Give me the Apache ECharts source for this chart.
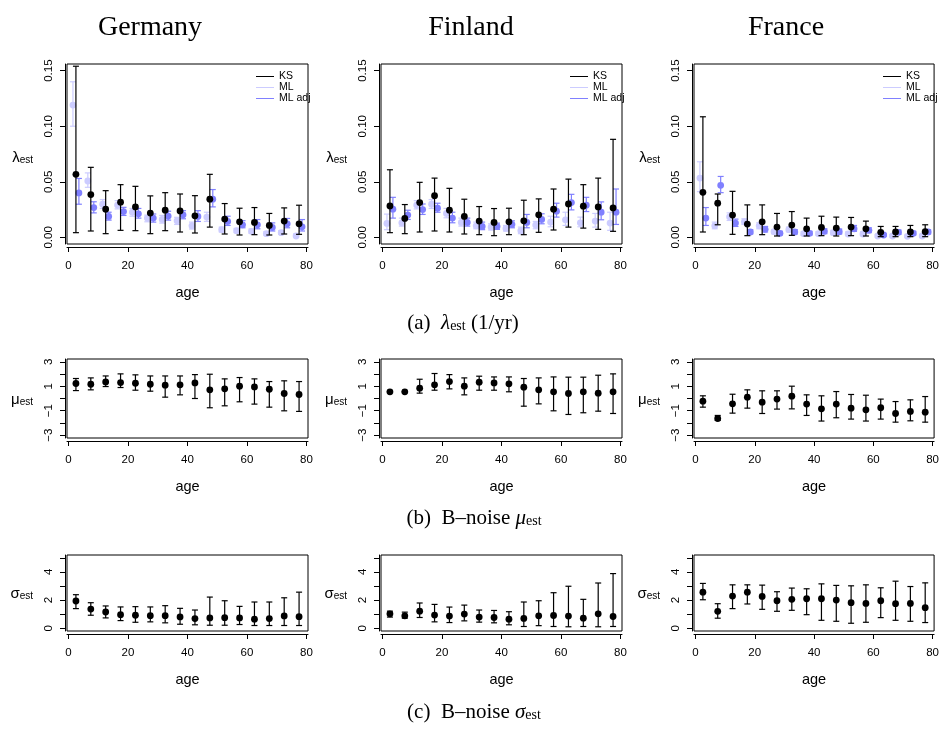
<!DOCTYPE html>
<html>
<head>
<meta charset="utf-8">
<script src="https://cdn.jsdelivr.net/npm/echarts@6/dist/echarts.min.js"></script>
<style>
  html, body { margin: 0; padding: 0; background: #fff; }
  #chart { width: 942px; height: 731px; }
</style>
</head>
<body>
<div id="chart"></div>
<script>
// Age-group midpoints (years)
const ages = [2.5, 7.5, 12.5, 17.5, 22.5, 27.5, 32.5, 37.5, 42.5, 47.5, 52.5, 57.5, 62.5, 67.5, 72.5, 77.5];
const countries = ['Germany', 'Finland', 'France'];
const xTicks = [0, 20, 40, 60, 80];

// Each entry: [estimate, lower, upper]
// lambda (1/yr) — Germany
const lamKS_DE = [[0.0567,0.0042,0.154],[0.0385,0.0057,0.063],[0.0253,0.0033,0.042],[0.0316,0.0063,0.0474],[0.0274,0.006,0.0459],[0.0218,0.0033,0.0373],[0.0244,0.006,0.0402],[0.0238,0.0048,0.039],[0.0194,0.0039,0.0375],[0.0343,0.0092,0.0567],[0.0164,0.003,0.0304],[0.014,0.0021,0.0262],[0.0134,0.0024,0.0268],[0.0107,0.0021,0.0215],[0.0146,0.003,0.0265],[0.0122,0.0027,0.0289]];
const lamML_DE = [[0.119,0.100,0.140],[0.0507,0.045,0.058],[0.0298,0.026,0.034],[0.029,0.0256,0.033],[0.0226,0.019,0.026],[0.0173,0.014,0.020],[0.0161,0.0128,0.0197],[0.0149,0.0116,0.018],[0.0104,0.0075,0.0137],[0.0182,0.0143,0.0226],[0.0069,0.0048,0.0092],[0.006,0.0042,0.008],[0.0054,0.0036,0.0075],[0.0033,0.0018,0.0051],[0.0042,0.0027,0.006],[0.0012,0,0.003]];
const lamMLadj_DE = [[0.040,0.0298,0.053],[0.0268,0.022,0.032],[0.0188,0.0155,0.0226],[0.0232,0.0197,0.027],[0.0212,0.0173,0.026],[0.0173,0.0137,0.021],[0.0191,0.0155,0.0235],[0.0203,0.0167,0.024],[0.0188,0.0143,0.024],[0.0343,0.0274,0.043],[0.0143,0.0107,0.019],[0.0113,0.0086,0.015],[0.0113,0.0077,0.016],[0.0089,0.0057,0.013],[0.0122,0.0086,0.017],[0.0095,0.0057,0.016]];
// lambda — Finland
const lamKS_FI = [[0.0283,0.0042,0.0608],[0.017,0.0033,0.0295],[0.0313,0.0048,0.0495],[0.0375,0.0057,0.0533],[0.0244,0.0048,0.0441],[0.0188,0.003,0.0343],[0.0146,0.0024,0.0277],[0.0134,0.0015,0.0259],[0.014,0.0024,0.0262],[0.0149,0.0024,0.0334],[0.0203,0.0045,0.0346],[0.0253,0.0066,0.0435],[0.0301,0.0092,0.0524],[0.028,0.0083,0.0474],[0.0274,0.0072,0.0533],[0.0265,0.0054,0.0882]];
const lamML_FI = [[0.0125,0.0069,0.0209],[0.0131,0.0101,0.0173],[0.029,0.0256,0.033],[0.0298,0.026,0.034],[0.0215,0.0176,0.026],[0.0134,0.0101,0.0173],[0.0104,0.0077,0.0137],[0.0092,0.0066,0.0122],[0.008,0.0057,0.0107],[0.006,0.0033,0.0092],[0.011,0.0077,0.0143],[0.0137,0.0095,0.019],[0.0158,0.0107,0.0226],[0.0131,0.0095,0.0182],[0.0146,0.0092,0.0215],[0.0128,0.0063,0.0226]];
const lamMLadj_FI = [[0.0253,0.0173,0.036],[0.020,0.0161,0.0244],[0.025,0.0206,0.030],[0.0262,0.0226,0.0307],[0.0173,0.0131,0.0226],[0.0134,0.0101,0.0173],[0.0098,0.0069,0.0137],[0.0098,0.0072,0.0128],[0.0116,0.0086,0.0149],[0.0134,0.0086,0.0206],[0.0161,0.0122,0.0212],[0.0235,0.0182,0.0307],[0.0313,0.0247,0.0387],[0.0289,0.0232,0.036],[0.0226,0.0158,0.0319],[0.0226,0.0116,0.0435]];
// lambda — France
const lamKS_FR = [[0.0405,0.0048,0.1085],[0.0307,0.0113,0.039],[0.020,0.0027,0.0414],[0.0119,0.0015,0.0292],[0.014,0.0024,0.0292],[0.0092,0.0012,0.0215],[0.011,0.0018,0.0232],[0.0077,0.0012,0.0173],[0.0089,0.0015,0.019],[0.0083,0.0012,0.0182],[0.0092,0.0015,0.0179],[0.0077,0.0012,0.0146],[0.0045,0.0006,0.0098],[0.0048,0.0006,0.0098],[0.0048,0.0006,0.0107],[0.0051,0.0006,0.0113]];
const lamML_FR = [[0.0533,0.0411,0.068],[0.0104,0.0077,0.0137],[0.0185,0.0152,0.022],[0.014,0.0116,0.0167],[0.0104,0.0077,0.0131],[0.0051,0.0033,0.0069],[0.0069,0.0051,0.0092],[0.0033,0.0018,0.0051],[0.0033,0.0018,0.0051],[0.0042,0.0024,0.0063],[0.003,0.0015,0.0048],[0.003,0.0015,0.0048],[0.0012,0.0003,0.0024],[0.0012,0.0003,0.0024],[0.0009,0,0.0021],[0.0012,0.0003,0.0024]];
const lamMLadj_FR = [[0.0173,0.0107,0.0268],[0.0468,0.0402,0.0548],[0.0128,0.0098,0.0164],[0.0048,0.003,0.0069],[0.0072,0.0048,0.0098],[0.0036,0.0021,0.0054],[0.0048,0.003,0.0069],[0.0036,0.0021,0.0054],[0.0054,0.0033,0.0077],[0.0051,0.003,0.0075],[0.0077,0.0054,0.0107],[0.0063,0.0042,0.0086],[0.0021,0.0009,0.0033],[0.0045,0.0027,0.0066],[0.0036,0.0021,0.0054],[0.0048,0.003,0.0069]];

// B-noise mu
const mu_DE = [[1.23,0.65,1.64],[1.17,0.71,1.69],[1.36,0.98,1.85],[1.31,0.90,2.02],[1.25,0.68,1.94],[1.17,0.60,1.85],[1.09,0.11,1.85],[1.12,0.30,1.85],[1.28,0.0,1.96],[0.71,-0.76,1.99],[0.79,-0.60,1.61],[1.01,-0.27,1.72],[0.95,-0.46,1.61],[0.76,-0.71,1.39],[0.41,-1.01,1.45],[0.33,-1.06,1.39]];
const mu_FI = [[0.55,0.53,0.57],[0.55,0.53,0.57],[0.85,0.44,1.58],[1.12,0.68,2.05],[1.39,0.79,1.96],[1.01,0.30,1.69],[1.34,0.68,1.83],[1.28,0.68,1.77],[1.20,0.55,1.77],[0.93,-0.63,1.64],[0.71,-0.44,1.69],[0.55,-1.01,1.77],[0.41,-1.31,1.75],[0.55,-1.17,1.75],[0.44,-1.04,1.91],[0.55,-1.23,2.02]];
const mu_FR = [[-0.22,-0.71,0.22],[-1.64,-1.80,-1.39],[-0.44,-1.20,0.35],[0.11,-0.79,0.71],[-0.30,-1.23,0.63],[-0.05,-0.87,0.63],[0.19,-0.85,1.01],[-0.46,-1.39,0.30],[-0.85,-1.85,0.22],[-0.46,-1.58,0.57],[-0.79,-1.69,0.33],[-0.93,-1.85,0.27],[-0.76,-1.69,-0.05],[-1.23,-1.94,-0.25],[-1.06,-1.83,-0.11],[-1.12,-1.94,0.16]];

// B-noise sigma
const sig_DE = [[1.93,1.39,2.38],[1.36,0.92,1.81],[1.15,0.73,1.58],[0.96,0.54,1.51],[0.92,0.42,1.53],[0.89,0.45,1.51],[0.89,0.38,1.60],[0.80,0.28,1.41],[0.68,0.24,1.29],[0.73,0.21,2.21],[0.75,0.21,1.95],[0.73,0.26,1.55],[0.64,0.19,1.86],[0.68,0.19,1.86],[0.87,0.19,2.16],[0.82,0.19,2.56]];
const sig_FI = [[1.02,0.79,1.21],[0.88,0.71,1.14],[1.21,0.76,1.79],[0.93,0.45,1.69],[0.86,0.40,1.50],[1.00,0.52,1.64],[0.79,0.43,1.29],[0.76,0.38,1.26],[0.64,0.24,1.17],[0.69,0.12,1.86],[0.88,0.18,1.95],[0.90,0.12,2.52],[0.86,0.10,2.98],[0.71,0.12,2.05],[1.02,0.10,3.21],[0.83,0.12,3.88]];
const sig_FR = [[2.56,2.02,3.18],[1.20,0.71,1.74],[2.28,1.39,3.08],[2.56,1.72,3.08],[2.26,1.34,3.06],[1.95,1.20,2.59],[2.05,1.27,2.85],[2.09,0.96,2.80],[2.09,0.56,3.15],[2.00,0.49,3.04],[1.81,0.35,3.01],[1.76,0.42,3.08],[1.95,0.75,2.87],[1.74,0.56,3.34],[1.76,0.49,2.96],[1.46,0.40,3.22]];

const lamKS = [lamKS_DE, lamKS_FI, lamKS_FR];
const lamML = [lamML_DE, lamML_FI, lamML_FR];
const lamMLadj = [lamMLadj_DE, lamMLadj_FI, lamMLadj_FR];
const muEst = [mu_DE, mu_FI, mu_FR];
const sigEst = [sig_DE, sig_FI, sig_FR];

// ---- layout ----
const SANS = '"Liberation Sans", Arial, Helvetica, sans-serif';
const SERIF = '"Liberation Serif", "Times New Roman", serif';
const colLeft = [67, 381, 694];
const colWidth = 241;
const rows = [
  { top: 64, height: 180, min: -0.006, max: 0.156, ticks: [0, 0.05, 0.10, 0.15], labels: [0, 0.05, 0.10, 0.15], sym: 'λ', namePad: 8, fmt: v => v.toFixed(2) },
  { top: 359, height: 79, min: -3.24, max: 3.24, ticks: [-3, -2, -1, 0, 1, 2, 3], labels: [-3, -1, 1, 3], sym: 'μ', namePad: 2, fmt: v => (v < 0 ? '\u2212' + Math.abs(v) : String(v)) },
  { top: 555, height: 76, min: -0.2, max: 5.2, ticks: [0, 1, 2, 3, 4, 5], labels: [0, 2, 4], sym: 'σ', namePad: 2, fmt: v => String(v) }
];
const COL_KS = '#000000', COL_ML = '#ccccff', COL_MLADJ = '#8080ff';
const DODGE = 1; // horizontal shift of the ML estimators around the age midpoint

function errorBar(params, api) {
  const x = api.value(0);
  const p = api.coord([x, api.value(1)]);
  const lo = api.coord([x, api.value(2)]);
  const hi = api.coord([x, api.value(3)]);
  const color = api.visual('color');
  const cap = 3;
  const st = { stroke: color, lineWidth: 1.2 };
  return {
    type: 'group',
    children: [
      { type: 'line', shape: { x1: p[0], y1: lo[1], x2: p[0], y2: hi[1] }, style: st },
      { type: 'line', shape: { x1: p[0] - cap, y1: hi[1], x2: p[0] + cap, y2: hi[1] }, style: st },
      { type: 'line', shape: { x1: p[0] - cap, y1: lo[1], x2: p[0] + cap, y2: lo[1] }, style: st },
      { type: 'circle', shape: { cx: p[0], cy: p[1], r: 3.4 }, style: { fill: color } }
    ]
  };
}

function seriesFor(name, rows3, shift, color, idx) {
  return {
    type: 'custom',
    name: name,
    xAxisIndex: idx,
    yAxisIndex: idx,
    renderItem: errorBar,
    itemStyle: { color: color },
    encode: { x: 0, y: [1, 2, 3] },
    data: ages.map((a, i) => [a + shift, rows3[i][0], rows3[i][1], rows3[i][2]]),
    silent: true,
    animation: false
  };
}

const grid = [], xAxis = [], yAxis = [], series = [], legend = [];
rows.forEach((r, ri) => {
  colLeft.forEach((left, ci) => {
    const idx = ri * 3 + ci;
    grid.push({ left: left, top: r.top, width: colWidth, height: r.height, show: true, borderColor: '#000', borderWidth: 1, backgroundColor: 'transparent' });
    xAxis.push({
      type: 'value', gridIndex: idx, min: -0.5, max: 80.5, position: 'bottom', offset: 3,
      name: 'age', nameLocation: 'middle', nameGap: 38,
      nameTextStyle: { fontFamily: SANS, fontSize: 14.5, color: '#000' },
      axisLine: { show: true, onZero: false, lineStyle: { color: '#000', width: 1 } },
      axisTick: { show: true, length: 5, customValues: xTicks, lineStyle: { color: '#000' } },
      axisLabel: { customValues: xTicks, fontFamily: SANS, fontSize: 11.5, color: '#000', margin: 13 },
      splitLine: { show: false }
    });
    yAxis.push({
      type: 'value', gridIndex: idx, min: r.min, max: r.max, position: 'left', offset: 2,
      name: '{g|' + r.sym + '}{s|est}', nameLocation: 'middle', nameRotate: 0, nameGap: 32,
      nameTextStyle: { color: '#000', padding: [r.namePad, 0, 0, 0], rich: {
        g: { fontFamily: SANS, fontSize: 15, color: '#000' },
        s: { fontFamily: SANS, fontSize: 10, color: '#000', verticalAlign: 'bottom', lineHeight: 8 }
      } },
      axisLine: { show: true, onZero: false, lineStyle: { color: '#000', width: 1 } },
      axisTick: { show: true, length: 5, customValues: r.ticks, lineStyle: { color: '#000' } },
      axisLabel: { customValues: r.labels, rotate: 90, fontFamily: SANS, fontSize: 11.5, color: '#000', margin: 10, formatter: r.fmt },
      splitLine: { show: false }
    });
    if (ri === 0) {
      series.push(seriesFor('ML', lamML[ci], -DODGE, COL_ML, idx));
      series.push(seriesFor('ML adj', lamMLadj[ci], DODGE, COL_MLADJ, idx));
      series.push(seriesFor('KS', lamKS[ci], 0, COL_KS, idx));
      legend.push({
        left: left + colWidth - 57, top: 66, orient: 'vertical', selectedMode: false,
        itemWidth: 18, itemHeight: 1, itemGap: 0,
        textStyle: { fontFamily: SANS, fontSize: 10.5, color: '#000', lineHeight: 11 },
        data: [
          { name: 'KS', icon: 'rect', itemStyle: { color: COL_KS } },
          { name: 'ML', icon: 'rect', itemStyle: { color: COL_ML } },
          { name: 'ML adj', icon: 'rect', itemStyle: { color: COL_MLADJ } }
        ]
      });
    } else {
      const d = ri === 1 ? muEst[ci] : sigEst[ci];
      series.push(seriesFor(ri === 1 ? 'mu' : 'sigma', d, 0, COL_KS, idx));
    }
  });
});

// Column headings and panel captions
const titleX = [150, 471, 786];
const graphic = countries.map((c, i) => ({
  type: 'text', x: titleX[i], y: 28,
  style: { text: c, font: '28px ' + SERIF, fill: '#000', align: 'center', verticalAlign: 'middle' }
}));
const capRich = {
  t: { fontFamily: SERIF, fontSize: 21, color: '#000' },
  i: { fontFamily: SERIF, fontSize: 21, fontStyle: 'italic', color: '#000' },
  s: { fontFamily: SERIF, fontSize: 14, color: '#000', verticalAlign: 'bottom', lineHeight: 11 }
};
const captions = [
  { text: '{t|(a)  }{i|λ}{s|est}{t| (1/yr)}', x: 463, y: 323 },
  { text: '{t|(b)  B–noise }{i|μ}{s|est}', x: 474, y: 518 },
  { text: '{t|(c)  B–noise }{i|σ}{s|est}', x: 474, y: 712 }
];
captions.forEach(c => graphic.push({
  type: 'text', x: c.x, y: c.y,
  style: { text: c.text, rich: capRich, fill: '#000', align: 'center', verticalAlign: 'middle' }
}));

const chart = echarts.init(document.getElementById('chart'), null, { renderer: 'canvas' });
chart.setOption({
  animation: false,
  backgroundColor: '#fff',
  grid, xAxis, yAxis, series, legend, graphic
});
</script>
</body>
</html>
